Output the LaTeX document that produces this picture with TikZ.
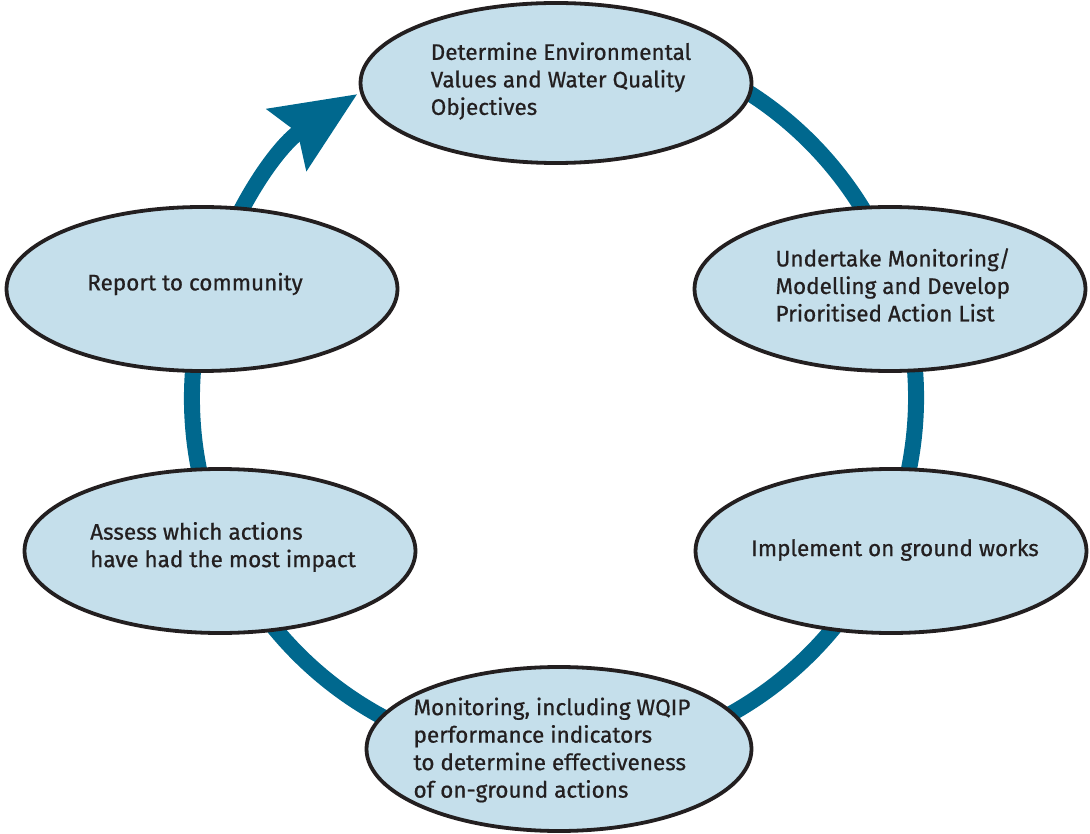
\documentclass[tikz,border=0pt]{standalone}
\usepackage{fontspec}
\setmainfont{Fira Sans}[UprightFeatures={FakeBold=0.7}]
\usetikzlibrary{shapes.geometric,arrows.meta}
\definecolor{ringblue}{RGB}{0,104,142}
\definecolor{bubblefill}{RGB}{197,223,235}
\definecolor{inkdark}{RGB}{35,31,32}
\begin{document}
\begin{tikzpicture}[x=1pt,y=-1pt,
  bubble/.style={ellipse, draw=inkdark, line width=3.8pt, fill=bubblefill,
    minimum width=391pt, minimum height=164pt, inner sep=0pt},
  bubbletext/.style={align=left, text=inkdark, inner sep=0pt,
    font=\fontsize{22.5}{27.5}\selectfont},
  ring/.style={draw=ringblue, line width=16pt}]
\path[use as bounding box] (0,0) rectangle (1090,834);

% the cycle: one circular band running clockwise, ending in an arrow head
\coordinate (ringc) at (554,398);
\draw[ring, -{Stealth[length=83pt,width=71pt,inset=12pt]}]
  (ringc) ++(280:362) arc[start angle=280, end angle=597.1, radius=362];

% the six stages
\node[bubble, minimum height=160pt] (values)    at (556,83)  {};
\node[bubble] (monitorplan) at (890,289) {};
\node[bubble] (implement)   at (891,551) {};
\node[bubble, minimum width=385pt] (monitor) at (559,749) {};
\node[bubble] (assess)      at (220,551) {};
\node[bubble] (report)      at (202,289) {};

\node[bubbletext] (valuesText) at ([xshift=5pt,yshift=2pt]values.center)
  {Determine Environmental\\Values and Water Quality\\Objectives};
\node[bubbletext] (monitorplanText) at ([xshift=3pt,yshift=4pt]monitorplan.center)
  {Undertake Monitoring/\\Modelling and Develop\\Prioritised Action List};
\node[bubbletext] (implementText) at ([xshift=4pt,yshift=1pt]implement.center)
  {Implement on ground works};
\node[bubbletext] (monitorText) at ([xshift=-7pt,yshift=-1pt]monitor.center)
  {Monitoring, including WQIP\\performance indicators\\to determine effectiveness\\of on-ground actions};
\node[bubbletext] (assessText) at ([xshift=3pt,yshift=4pt]assess.center)
  {Assess which actions\\have had the most impact};
\node[bubbletext] (reportText) at ([xshift=-7pt,yshift=5pt]report.center)
  {Report to community};
\end{tikzpicture}
\end{document}
